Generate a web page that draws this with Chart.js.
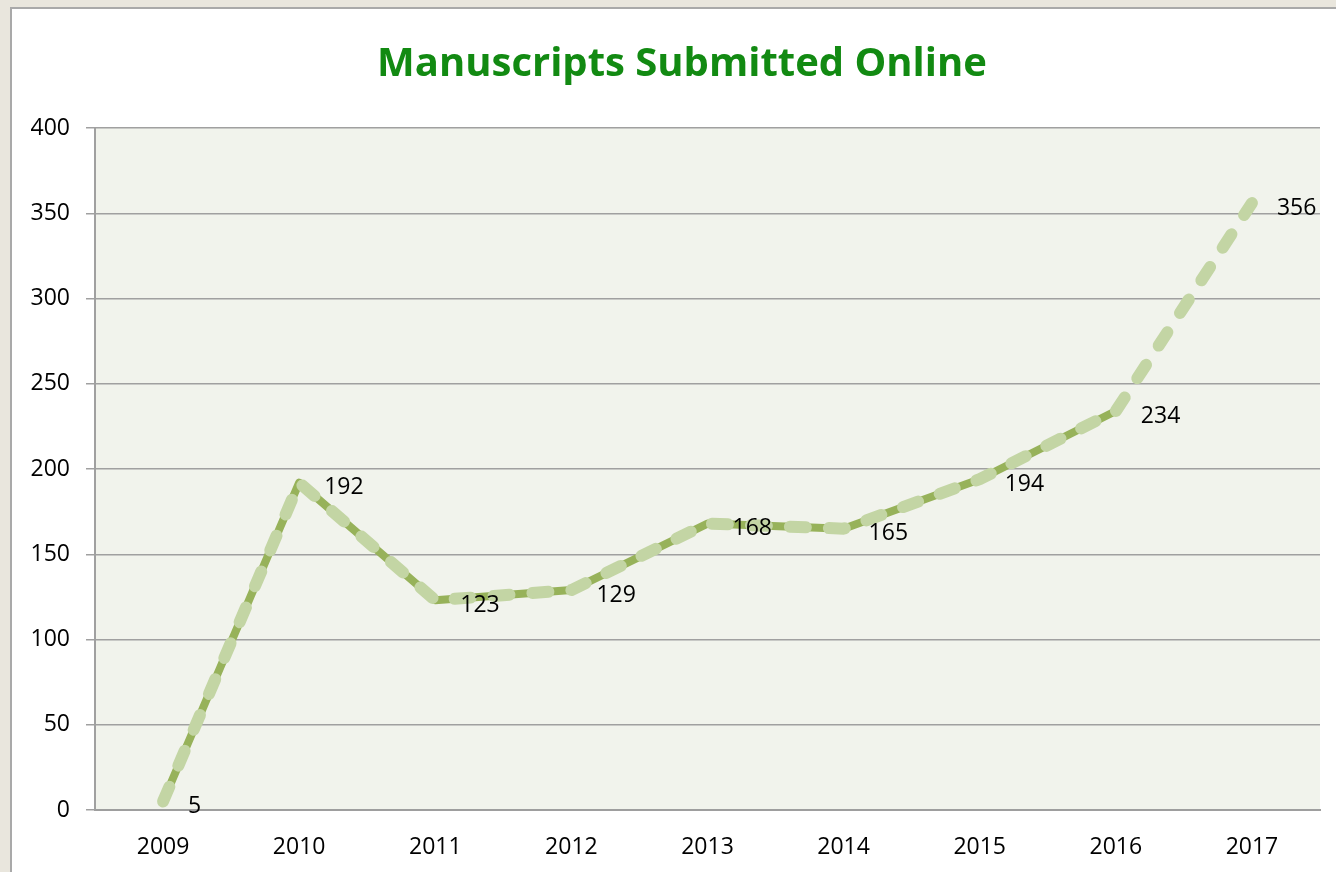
<!DOCTYPE html>
<html>
<head>
<meta charset="utf-8">
<script src="https://cdn.jsdelivr.net/npm/chart.js@4"></script>
<style>
  html, body { margin: 0; padding: 0; }
  body { width: 1336px; height: 872px; background: #e9e6dd; position: relative; overflow: hidden; }
  #panel { position: absolute; left: 10px; top: 7px; width: 1340px; height: 880px; background: #ffffff; border: 2px solid #a9a9a9; }
  #wrap { position: absolute; left: 0; top: 0; width: 1336px; height: 872px; }
</style>
</head>
<body>
<div id="panel"></div>
<div id="wrap"><canvas id="chart" width="1336" height="872"></canvas></div>
<script>
const years = ["2009", "2010", "2011", "2012", "2013", "2014", "2015", "2016", "2017"];
const submitted = [5, 192, 123, 129, 168, 165, 194, 234, 356];
const actual = [5, 192, 123, 129, 168, 165, 194, 234, null];
const yTicks = [0, 50, 100, 150, 200, 250, 300, 350, 400];
const chartTitle = "Manuscripts Submitted Online";

const plotBackground = {
  id: "plotBackground",
  beforeDraw(chart) {
    const { ctx, chartArea } = chart;
    ctx.save();
    ctx.fillStyle = "#f1f3ec";
    ctx.fillRect(chartArea.left, chartArea.top, chartArea.right - chartArea.left, chartArea.bottom - chartArea.top);
    ctx.restore();
  }
};

// title is drawn by hand so it can sit a bit right of the canvas centre, as in the original
const titleText = {
  id: "titleText",
  afterDraw(chart) {
    const { ctx } = chart;
    ctx.save();
    ctx.font = "bold 40px 'Open Sans'";
    ctx.fillStyle = "#128a12";
    ctx.textAlign = "center";
    ctx.textBaseline = "middle";
    ctx.fillText(chartTitle, 682, 65);
    ctx.restore();
  }
};

const valueLabels = {
  id: "valueLabels",
  afterDatasetsDraw(chart) {
    const { ctx } = chart;
    const meta = chart.getDatasetMeta(1);
    ctx.save();
    ctx.font = "23px 'Open Sans'";
    ctx.fillStyle = "#000000";
    ctx.textAlign = "left";
    ctx.textBaseline = "middle";
    meta.data.forEach((pt, i) => {
      ctx.fillText(String(submitted[i]), pt.x + 25, pt.y + 5);
    });
    ctx.restore();
  }
};

new Chart(document.getElementById("chart"), {
  type: "line",
  data: {
    labels: years,
    datasets: [
      {
        data: actual,
        borderColor: "#97b25a",
        borderWidth: 8,
        pointRadius: 0,
        tension: 0,
        borderJoinStyle: "round",
        borderCapStyle: "round",
        order: 2
      },
      {
        data: submitted,
        borderColor: "#c3d5a4",
        borderWidth: 12,
        borderDash: [16, 23],
        borderCapStyle: "round",
        borderJoinStyle: "round",
        pointRadius: 0,
        tension: 0,
        order: 1
      }
    ]
  },
  options: {
    responsive: false,
    animation: false,
    layout: { padding: { left: 0, right: 16, top: 128, bottom: 0 } },
    plugins: {
      legend: { display: false },
      tooltip: { enabled: false },
      title: { display: false }
    },
    scales: {
      x: {
        offset: true,
        grid: { display: false, drawTicks: false },
        border: { display: true, color: "#9e9e9e", width: 2 },
        ticks: { color: "#000000", font: { family: "'Open Sans'", size: 23 }, padding: 24, maxRotation: 0 },
        afterFit(scale) { scale.height = 62; }
      },
      y: {
        min: 0,
        max: 400,
        afterBuildTicks(scale) { scale.ticks = yTicks.map((v) => ({ value: v })); },
        grid: { color: "#a0a0a0", lineWidth: 1.5, drawTicks: true, tickLength: 9 },
        border: { display: true, color: "#a0a0a0", width: 2 },
        ticks: { color: "#000000", font: { family: "'Open Sans'", size: 23 }, padding: 16 },
        afterFit(scale) { scale.width = 95; }
      }
    }
  },
  plugins: [plotBackground, titleText, valueLabels]
});
</script>
</body>
</html>
